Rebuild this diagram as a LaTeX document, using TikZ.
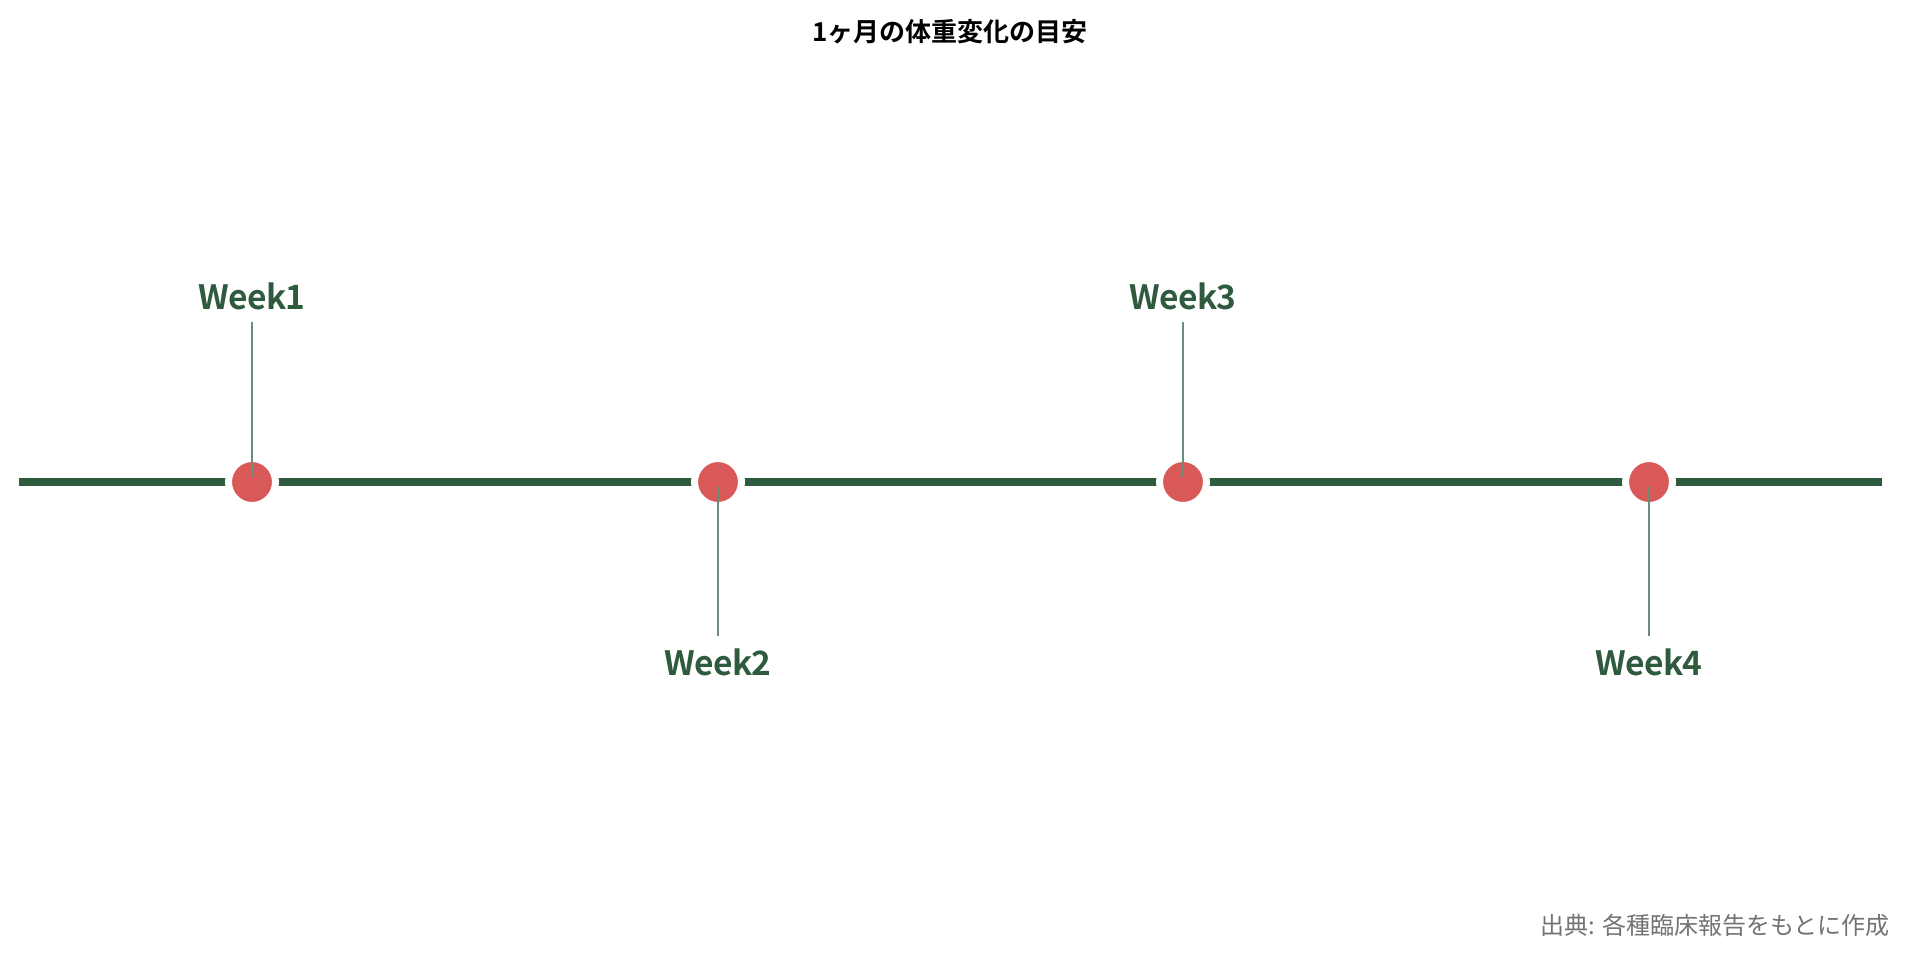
\documentclass[tikz,border=0pt]{standalone}
\usepackage{fontspec}
\setmainfont{Noto Sans CJK JP}[BoldFont={Noto Sans CJK JP Bold}]
\newfontfamily\weekfont{Noto Sans CJK JP Bold}[LetterSpace=-2]
\definecolor{lineGreen}{HTML}{2E5B3E}
\definecolor{stemGreen}{HTML}{6A8E76}
\definecolor{dotRed}{HTML}{D95858}
\definecolor{noteGrey}{HTML}{737373}
\tikzset{
    timeline/.style={draw=lineGreen, line width=8pt},
    weekdot/.style={circle, fill=dotRed, draw=white, line width=7pt, minimum size=47pt, inner sep=0pt},
    stemline/.style={draw=stemGreen, line width=2.5pt, shorten <=5pt, shorten >=13pt},
    weeklabel/.style={text=lineGreen, font=\fontsize{33.5}{38}\weekfont, inner sep=0pt, text height=26pt, text depth=0pt, anchor=base},
    titletext/.style={font=\fontsize{26}{30}\selectfont\bfseries, inner sep=0pt, anchor=base},
    sourcetext/.style={text=noteGrey, font=\fontsize{24}{28}\selectfont, inner sep=0pt, anchor=base east}
}
\begin{document}
\begin{tikzpicture}[x=1pt, y=-1pt]
        \useasboundingbox (0,0) rectangle (1910,959);
        % titolo e fonte
        \node[titletext] (title) at (950,41) {1ヶ月の体重変化の目安};
        \node[sourcetext] (source) at (1890,934) {出典: 各種臨床報告をもとに作成};
        % linea del tempo
        \coordinate (start) at (19,482);
        \coordinate (end) at (1882,482);
        \draw[timeline] (start) -- (end);
        \node[weekdot] (w1) at (252,482) {};
        \node[weekdot] (w2) at (718,482) {};
        \node[weekdot] (w3) at (1183,482) {};
        \node[weekdot] (w4) at (1649,482) {};
        % etichette sopra e sotto
        \node[weeklabel] (l1) at (252,309) {Week1};
        \node[weeklabel] (l2) at (718,675) {Week2};
        \node[weeklabel] (l3) at (1183,309) {Week3};
        \node[weeklabel] (l4) at (1649,675) {Week4};
        \draw[stemline] (w1.center) -- (l1.south);
        \draw[stemline] (w2.center) -- (l2.north);
        \draw[stemline] (w3.center) -- (l3.south);
        \draw[stemline] (w4.center) -- (l4.north);
    \end{tikzpicture}
\end{document}
